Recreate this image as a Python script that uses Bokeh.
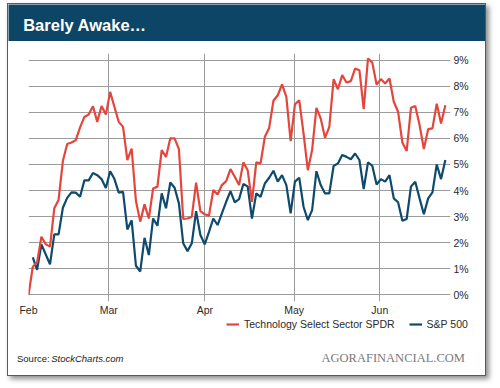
import numpy as np
from bokeh.plotting import figure
from bokeh.models import (Range1d, FixedTicker, PrintfTickFormatter, Legend,
                          LegendItem, Label, ColumnDataSource)
from bokeh.layouts import column
from bokeh.embed import file_html
from bokeh.resources import INLINE

# ---------------- data ----------------
title_text = "Barely Awake…"
months = ["Feb", "Mar", "Apr", "May", "Jun"]
month_pos = [0, 18.69, 41.03, 61.8, 81.75]   # trading-day index of month starts
pct_ticks = [0, 1, 2, 3, 4, 5, 6, 7, 8, 9]
series_names = ["Technology Select Sector SPDR", "S&P 500"]

tech = [0.0, 1.08, 1.25, 2.23, 1.95, 1.85, 3.32, 3.64, 5.13, 5.78,
        5.84, 5.93, 6.42, 6.82, 6.91, 7.23, 6.63, 7.24, 6.91, 7.78,
        7.20, 6.63, 6.44, 5.17, 5.61, 3.60, 2.81, 3.47, 2.93, 4.08,
        4.15, 5.55, 5.29, 6.00, 6.00, 5.59, 2.91, 2.93, 3.00, 4.30,
        3.21, 3.09, 3.04, 4.02, 3.85, 4.21, 4.36, 4.82, 4.53, 4.21,
        5.08, 4.78, 3.57, 5.08, 5.04, 6.06, 6.40, 7.44, 7.65, 8.07,
        7.59, 5.89, 7.30, 7.46, 6.19, 4.78, 5.55, 7.17, 6.76, 6.02,
        6.44, 8.27, 7.88, 8.42, 8.14, 8.19, 8.67, 8.61, 7.12, 9.06,
        8.90, 8.06, 8.27, 8.10, 8.29, 7.40, 7.02, 5.84, 5.51, 7.17,
        7.24, 6.51, 5.59, 6.35, 6.38, 7.33, 6.57, 7.27]

spx = [float("nan"), 1.44, 0.96, 1.94, 1.56, 1.17, 2.32, 2.32, 3.34, 3.72,
       3.93, 3.92, 3.76, 4.39, 4.39, 4.67, 4.59, 4.44, 4.10, 4.74,
       4.44, 3.92, 3.95, 2.51, 2.86, 1.12, 0.90, 2.19, 1.53, 2.93,
       2.65, 3.89, 3.32, 4.31, 4.11, 3.51, 1.98, 1.68, 1.98, 3.21,
       2.30, 1.94, 2.42, 2.93, 2.68, 3.13, 3.57, 3.98, 3.55, 3.67,
       4.25, 4.16, 2.93, 3.89, 3.76, 4.27, 4.49, 4.76, 4.34, 4.59,
       4.21, 3.13, 4.34, 4.49, 3.38, 2.87, 3.25, 4.74, 4.21, 3.89,
       3.89, 4.94, 5.04, 5.36, 5.29, 5.20, 5.42, 5.17, 4.06, 5.08,
       4.95, 4.23, 4.44, 4.34, 4.59, 3.70, 3.55, 2.84, 2.91, 4.15,
       4.34, 3.70, 3.09, 3.70, 3.93, 5.00, 4.44, 5.17]

day = list(range(len(tech)))

# ---------------- styles ----------------
HEADER = "#0c4566"
RED = "#e4463d"
BLUE = "#0e4a6b"
GRID = "#9c9c9c"
FONT = "Liberation Sans"
W = 477


def bare(height, yr):
    f = figure(width=W, height=height, x_range=Range1d(0, W), y_range=Range1d(0, yr),
               toolbar_location=None, output_backend="svg", frame_align=False,
               min_border_left=0, min_border_right=0, min_border_top=0, min_border_bottom=0,
               x_axis_location=None, y_axis_location=None)
    f.grid.visible = False
    f.outline_line_color = None
    return f


src = ColumnDataSource(dict(day=day, tech=tech, spx=spx))

# ---------------- header ----------------
hdr = bare(37, 37)
hdr.background_fill_color = HEADER
hdr.border_fill_color = HEADER
hdr.add_layout(Label(x=14.7, y=17, text=title_text, text_color="white",
                     text_font=FONT, text_font_style="bold",
                     text_font_size="16.5px", text_baseline="middle"))

# ---------------- main chart ----------------
p = figure(width=W, height=277, x_range=Range1d(0, 98.2), y_range=Range1d(-0.25, 9.25),
           y_axis_location="right", toolbar_location=None, output_backend="svg",
           frame_align=False,
           min_border_left=20, min_border_right=35, min_border_top=12, min_border_bottom=16)
p.outline_line_color = None
p.background_fill_color = "white"
p.border_fill_color = "white"

p.line("day", "spx", source=src, line_color=BLUE, line_width=2.2)
p.line("day", "tech", source=src, line_color=RED, line_width=2.2)

p.xaxis.ticker = FixedTicker(ticks=month_pos)
p.xaxis.major_label_overrides = {pos: m for pos, m in zip(month_pos, months)}
p.yaxis.ticker = FixedTicker(ticks=pct_ticks)
p.yaxis.formatter = PrintfTickFormatter(format="%d%%")
for ax in (p.xaxis[0], p.yaxis[0]):
    ax.axis_line_color = None
    ax.major_tick_line_color = None
    ax.minor_tick_line_color = None
    ax.major_tick_out = 0
    ax.major_tick_in = 0
    ax.major_label_text_font = FONT
    ax.major_label_text_font_size = "10.5px"
    ax.major_label_text_color = "#2a2a2a"
p.xaxis.major_label_standoff = 2
p.yaxis.major_label_standoff = 3

p.xgrid.ticker = FixedTicker(ticks=month_pos)
p.ygrid.ticker = FixedTicker(ticks=pct_ticks)
for g in (p.xgrid[0], p.ygrid[0]):
    g.grid_line_color = GRID
    g.grid_line_width = 1

# ---------------- footer (legend + credits) ----------------
ftr = bare(57, 57)
ftr.border_fill_color = "white"
ftr.background_fill_color = "white"
# legend keys: same two series, not shown in this strip
k_tech = ftr.line("day", "tech", source=src, line_color=RED, line_width=2.2, visible=False)
k_spx = ftr.line("day", "spx", source=src, line_color=BLUE, line_width=2.2, visible=False)
legend = Legend(items=[LegendItem(label=series_names[0], renderers=[k_tech]),
                       LegendItem(label=series_names[1], renderers=[k_spx])],
                orientation="horizontal", location=(218, 44),
                label_text_font=FONT, label_text_font_size="10.5px",
                label_text_color="#2a2a2a",
                glyph_width=13, glyph_height=14, label_height=14,
                label_standoff=5, spacing=14, padding=0, margin=0,
                border_line_color=None, background_fill_alpha=0)
ftr.add_layout(legend)

ftr.add_layout(Label(x=8.5, y=17.3, text="Source:", text_font=FONT,
                     text_font_size="9.5px", text_color="#222222", text_baseline="middle"))
ftr.add_layout(Label(x=42.7, y=17.3, text="StockCharts.com", text_font=FONT,
                     text_font_style="italic", text_font_size="9.5px",
                     text_color="#222222", text_baseline="middle"))
ftr.add_layout(Label(x=313, y=17.3, text="AGORAFINANCIAL.COM", text_font="Liberation Serif",
                     text_font_size="12.5px", text_color="#7a7a7a", text_baseline="middle"))

layout = column(hdr, p, ftr, spacing=0,
                styles={"margin-left": "7px", "margin-top": "3px",
                        "border": "1px solid #5a5a5a",
                        "box-shadow": "3px 3px 5px rgba(0,0,0,0.45)"})

open("out.html", "w").write(file_html(layout, INLINE))
